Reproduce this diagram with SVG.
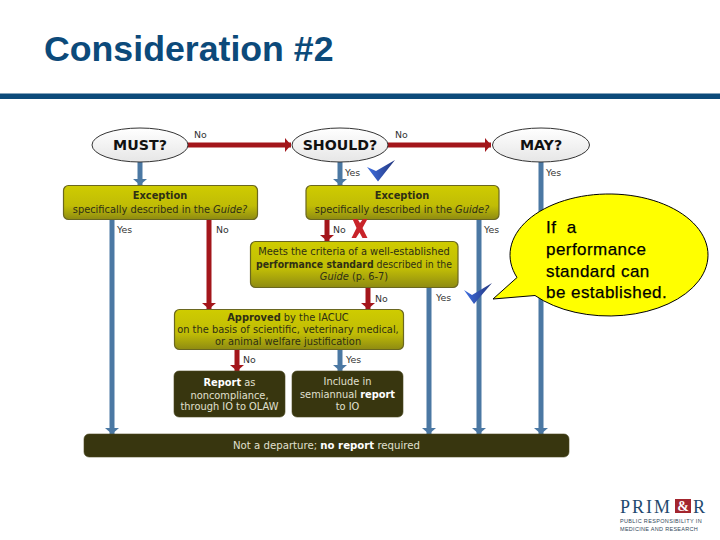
<svg xmlns="http://www.w3.org/2000/svg" width="720" height="540" viewBox="0 0 720 540">
<style>
text{font-family:"DejaVu Sans","Liberation Sans",sans-serif;font-size:9.85px;fill:#2f2f14}
.c{text-anchor:middle}
.b{font-weight:bold}
.i{font-style:italic}
.q{font-size:14.2px;font-weight:bold;fill:#111;text-anchor:middle}
.l{font-size:9.4px;fill:#333}
.w{fill:#e0e0d0;text-anchor:middle}
.wb{fill:#fff;font-weight:bold}
.oval{fill:url(#ov);stroke:#333;stroke-width:1}
.box{fill:url(#ol);stroke:#6a6720;stroke-width:1.2}
.dark{fill:#38360f;stroke:#4a4820;stroke-width:.6}
.blue{stroke:#4b78a3;stroke-width:5;fill:none;marker-end:url(#ab)}
.red{stroke:#a3161b;stroke-width:5;fill:none;marker-end:url(#ar)}
.call{font-family:"Liberation Sans",Arial,sans-serif;font-size:17px;fill:#000;stroke:#000;stroke-width:.25;letter-spacing:.45px}
</style>
<defs>
<linearGradient id="ol" x1="0" y1="0" x2="0" y2="1"><stop offset="0" stop-color="#cfcc00"/><stop offset=".6" stop-color="#c0bc06"/><stop offset="1" stop-color="#8e8b12"/></linearGradient>
<linearGradient id="ov" x1="0" y1="0" x2="0" y2="1"><stop offset="0" stop-color="#ffffff"/><stop offset="1" stop-color="#e6e6e6"/></linearGradient>
<linearGradient id="ck" x1="0" y1="0" x2="1" y2="0"><stop offset="0" stop-color="#3f6fe0"/><stop offset="1" stop-color="#24377f"/></linearGradient>
<marker id="ab" markerUnits="userSpaceOnUse" markerWidth="14" markerHeight="7" refX="7" refY="6" orient="0" viewBox="0 0 14 7"><path d="M0 0H14L7 6Z" fill="#4b78a3"/></marker>
<marker id="ar" markerUnits="userSpaceOnUse" markerWidth="14" markerHeight="7" refX="7" refY="6" orient="0" viewBox="0 0 14 7"><path d="M0 0H14L7 6Z" fill="#a3161b"/></marker>
<marker id="arh" markerUnits="userSpaceOnUse" markerWidth="7" markerHeight="14" refX="6" refY="7" orient="0" viewBox="0 0 7 14"><path d="M0 0V14L6 7Z" fill="#a3161b"/></marker>
</defs>
<rect width="720" height="540" fill="#fff"/>

<g id="title">
<text x="44" y="61" style="font-family:'Liberation Sans',Arial,sans-serif;font-size:35.7px;font-weight:bold;fill:#0c4a7a">Consideration #2</text>
<rect x="0" y="93.500" width="720" height="5.500" fill="#0c4a7a"/>
</g>

<g id="connectors">
<path class="red" d="M188 145H291" style="marker-end:url(#arh)"/>
<path class="red" d="M388 145H491" style="marker-end:url(#arh)"/>
<path class="blue" d="M140 162V185"/>
<path class="blue" d="M340 162V185"/>
<path class="blue" d="M112 219V434"/>
<path class="red" d="M209 219V309"/>
<path class="red" d="M327 219V241"/>
<path class="red" d="M368 287V309"/>
<path class="blue" d="M429 287V434"/>
<path class="blue" d="M479 219V434"/>
<path class="blue" d="M541 162V434"/>
<path class="red" d="M237 349V371"/>
<path class="blue" d="M340 349V371"/>
</g>

<g id="edge-labels">
<text class="l" x="194" y="138">No</text>
<text class="l" x="395" y="138">No</text>
<text class="l" x="345" y="176">Yes</text>
<text class="l" x="546" y="176">Yes</text>
<text class="l" x="117" y="233">Yes</text>
<text class="l" x="216" y="233">No</text>
<text class="l" x="333" y="233">No</text>
<text class="l" x="484" y="233">Yes</text>
<text class="l" x="375" y="302">No</text>
<text class="l" x="436" y="301">Yes</text>
<text class="l" x="243" y="363">No</text>
<text class="l" x="346" y="363">Yes</text>
</g>

<g id="must"><ellipse class="oval" cx="140" cy="145" rx="48" ry="17"/><text class="q" x="140" y="150">MUST?</text></g>
<g id="should"><ellipse class="oval" cx="340" cy="145" rx="48" ry="17"/><text class="q" x="340" y="150">SHOULD?</text></g>
<g id="may"><ellipse class="oval" cx="541" cy="145" rx="48.500" ry="17"/><text class="q" x="541" y="150">MAY?</text></g>

<g id="exception-1"><rect class="box" x="63.500" y="185.500" width="194" height="34" rx="5"/>
<text class="c b" x="160" y="199">Exception</text>
<text class="c" x="160" y="213">specifically described in the <tspan class="i">Guide?</tspan></text></g>

<g id="exception-2"><rect class="box" x="306" y="185.500" width="193" height="34" rx="5"/>
<text class="c b" x="402" y="199">Exception</text>
<text class="c" x="402" y="213">specifically described in the <tspan class="i">Guide?</tspan></text></g>

<g id="criteria"><rect class="box" x="250.500" y="241.500" width="207.500" height="46" rx="5"/>
<text class="c" x="354" y="255">Meets the criteria of a well-established</text>
<text class="c" x="354" y="268" textLength="196" lengthAdjust="spacingAndGlyphs"><tspan class="b">performance standard</tspan> described in the</text>
<text class="c" x="354" y="280"><tspan class="i">Guide</tspan> (p. 6-7)</text></g>

<g id="approved"><rect class="box" x="174.500" y="309.500" width="229" height="40" rx="5"/>
<text class="c" x="288" y="321"><tspan class="b">Approved</tspan> by the IACUC</text>
<text class="c" x="288" y="333">on the basis of scientific, veterinary medical,</text>
<text class="c" x="288" y="345">or animal welfare justification</text></g>

<g id="report"><rect class="dark" x="174" y="371" width="111" height="46" rx="5"/>
<text class="w" x="229.500" y="386"><tspan class="wb">Report</tspan> as</text>
<text class="w" x="229.500" y="399">noncompliance,</text>
<text class="w" x="229.500" y="410">through IO to OLAW</text></g>

<g id="include"><rect class="dark" x="292" y="371" width="111" height="46" rx="5"/>
<text class="w" x="347.500" y="385">Include in</text>
<text class="w" x="347.500" y="398">semiannual <tspan class="wb">report</tspan></text>
<text class="w" x="347.500" y="410">to IO</text></g>

<g id="no-report"><rect class="dark" x="84" y="434" width="485" height="23" rx="5"/>
<text class="w" x="326.500" y="449" textLength="187" lengthAdjust="spacingAndGlyphs">Not a departure; <tspan class="wb">no report</tspan> required</text></g>

<g id="marks">
<path d="M367 167L376 171L395 160L378 181.500Z" fill="url(#ck)"/>
<path d="M464 290L472 295L492 283L474 304Z" fill="url(#ck)"/>
<path d="M352.500 219H357.500L360 223L363 219H367.500L362.500 228L367.500 238H362.500L359.500 232.500L356 238H351.500L356.500 228Z" fill="#c8242a"/>
</g>

<g id="callout">
<path d="M517 277.500A99 61 0 1 1 535 295.500L493 299Z" fill="#ffff00" stroke="#000" stroke-width="1"/>
<text class="call" x="546" y="232.500" xml:space="preserve">If  a</text>
<text class="call" x="546" y="254.500">performance</text>
<text class="call" x="546" y="276.500">standard can</text>
<text class="call" x="546" y="297.500">be established.</text>
</g>

<g id="logo">
<text x="620" y="512.500" style="font-family:'Liberation Serif',serif;font-size:18px;fill:#1f4a6e;letter-spacing:2px">PRIM</text>
<rect x="675" y="499" width="16" height="14" fill="#a3262e"/>
<text x="683" y="511" text-anchor="middle" style="font-family:'Liberation Serif',serif;font-size:14px;font-weight:bold;fill:#fff">&amp;</text>
<text x="693" y="512.500" style="font-family:'Liberation Serif',serif;font-size:18px;fill:#1f4a6e">R</text>
<text x="620" y="523" style="font-family:'Liberation Sans',sans-serif;font-size:5.500px;fill:#33475a;letter-spacing:.35px">PUBLIC RESPONSIBILITY IN</text>
<text x="620" y="530.500" style="font-family:'Liberation Sans',sans-serif;font-size:5.500px;fill:#33475a;letter-spacing:.3px">MEDICINE AND RESEARCH</text>
</g>
</svg>
